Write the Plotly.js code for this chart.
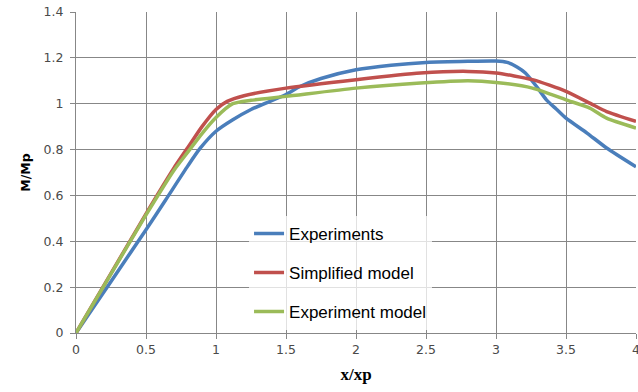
<!DOCTYPE html>
<html>
<head>
<meta charset="utf-8">
<script src="https://cdn.plot.ly/plotly-3.0.1.min.js"></script>
<style>html,body{margin:0;padding:0;background:#fff;}#chart{width:638px;height:392px;}</style>
</head>
<body>
<div id="chart"></div>
<script>
const seriesNames = ["Experiments", "Simplified model", "Experiment model"];

const expX = [0, 0.25, 0.5, 0.64, 0.8, 0.886, 1.0, 1.12, 1.25, 1.5, 1.6, 1.75, 2.0, 2.25, 2.5, 2.8, 3.0, 3.08, 3.15, 3.21, 3.29, 3.36, 3.43, 3.5, 3.65, 3.79, 4.0];
const expY = [0, 0.225, 0.45, 0.58, 0.73, 0.805, 0.88, 0.93, 0.975, 1.04, 1.075, 1.11, 1.148, 1.168, 1.18, 1.185, 1.186, 1.18, 1.16, 1.134, 1.075, 1.017, 0.977, 0.937, 0.872, 0.807, 0.725];

const simX = [0, 0.25, 0.5, 0.7, 0.8, 0.9, 1.0, 1.08, 1.2, 1.5, 2.0, 2.46, 2.8, 3.0, 3.26, 3.5, 3.69, 3.79, 4.0];
const simY = [0, 0.26, 0.52, 0.72, 0.81, 0.9, 0.975, 1.01, 1.035, 1.068, 1.105, 1.134, 1.141, 1.134, 1.105, 1.054, 0.996, 0.966, 0.923];

const modX = [0, 0.25, 0.5, 0.7, 0.8, 0.9, 1.0, 1.12, 1.25, 1.5, 2.0, 2.46, 2.8, 3.0, 3.26, 3.5, 3.67, 3.79, 4.0];
const modY = [0, 0.258, 0.515, 0.71, 0.79, 0.87, 0.94, 1.0, 1.015, 1.032, 1.068, 1.09, 1.1, 1.093, 1.068, 1.017, 0.981, 0.937, 0.894];

const colors = ["#4A7EBB", "#C0504D", "#9BBB59"];

const xTickVals = [0, 0.5, 1, 1.5, 2, 2.5, 3, 3.5, 4];
const xTickText = ["0", "0.5", "1", "1.5", "2", "2.5", "3", "3.5", "4"];
const yTickVals = [0, 0.2, 0.4, 0.6, 0.8, 1, 1.2, 1.4];
const yTickText = ["0", "0.2", "0.4", "0.6", "0.8", "1", "1.2", "1.4"];

const xs = [expX, simX, modX];
const ys = [expY, simY, modY];

const traces = seriesNames.map((n, i) => ({
  x: xs[i], y: ys[i], name: n, type: "scatter", mode: "lines",
  line: {color: colors[i], width: 3.5, shape: "spline", smoothing: 0.6},
  legendgroup: "g" + i
}));

const layout = {
  width: 638, height: 392,
  margin: {l: 76, r: 2, t: 12, b: 59},
  paper_bgcolor: "#ffffff", plot_bgcolor: "#ffffff",
  showlegend: true,
  legend: {
    x: 0.309, y: 0.365, xanchor: "left", yanchor: "top",
    bgcolor: "rgba(255,255,255,0.75)", borderwidth: 0,
    font: {family: "Liberation Sans, Arial, sans-serif", size: 17, color: "#000"},
    tracegroupgap: 14
  },
  xaxis: {
    range: [0, 4], tickvals: xTickVals, ticktext: xTickText,
    showgrid: true, gridcolor: "#878787", gridwidth: 1,
    showline: true, linecolor: "#878787", linewidth: 1,
    ticks: "outside", ticklen: 5, tickcolor: "#878787",
    ticklabeloverflow: "allow",
    zeroline: false,
    tickfont: {family: "DejaVu Sans, Verdana, sans-serif", size: 12.5, color: "#4a4a4a"},
    title: {text: "x/xp", font: {family: "Liberation Serif, Times New Roman, serif", size: 17, color: "#000", weight: "bold"}, standoff: 12}
  },
  yaxis: {
    range: [0, 1.4], tickvals: yTickVals, ticktext: yTickText,
    showgrid: true, gridcolor: "#878787", gridwidth: 1,
    showline: true, linecolor: "#878787", linewidth: 1,
    ticks: "outside", ticklen: 5, tickcolor: "#878787",
    ticklabelstandoff: 4,
    zeroline: false,
    tickfont: {family: "DejaVu Sans, Verdana, sans-serif", size: 12.5, color: "#4a4a4a"},
    title: {text: "M/Mp", font: {family: "DejaVu Sans, Verdana, sans-serif", size: 12.5, color: "#000", weight: "bold"}, standoff: 10}
  }
};

Plotly.newPlot("chart", traces, layout, {displayModeBar: false, staticPlot: true});
</script>
</body>
</html>
